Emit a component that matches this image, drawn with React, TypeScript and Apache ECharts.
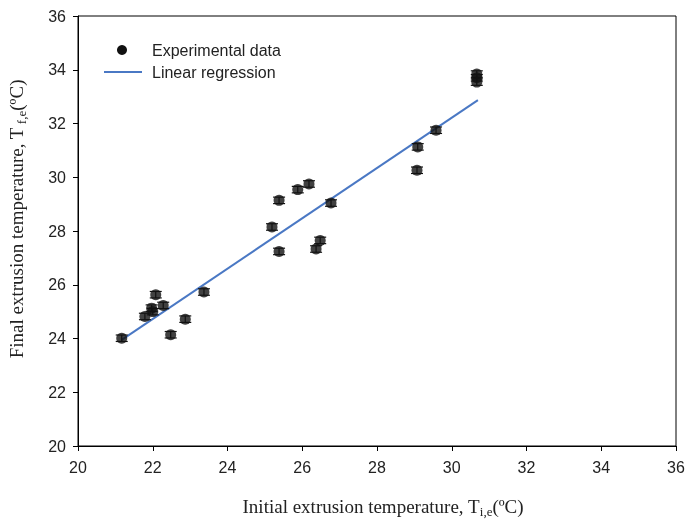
import React, { useEffect, useRef } from "react";
import * as echarts from "echarts";

const initialTemp = [21.17, 21.79, 21.97, 22.0, 22.08, 22.28, 22.48, 22.87, 23.37, 25.19, 25.38, 25.38, 25.88, 26.18, 26.37, 26.48, 26.77, 29.07, 29.09, 29.58, 30.67, 30.67, 30.67];
const finalTemp = [24.01, 24.82, 25.13, 25.0, 25.63, 25.23, 24.14, 24.72, 25.73, 28.15, 29.14, 27.24, 29.54, 29.75, 27.33, 27.65, 29.04, 30.26, 31.13, 31.75, 33.84, 33.7, 33.54];
const errorHalf = [0.12, 0.12, 0.12, 0.12, 0.12, 0.12, 0.12, 0.12, 0.12, 0.12, 0.12, 0.12, 0.12, 0.12, 0.12, 0.12, 0.12, 0.12, 0.12, 0.12, 0.12, 0.12, 0.12];
const regressionX = [21.17, 30.7];
const regressionY = [23.95, 32.87];
const axisTicks = [20, 22, 24, 26, 28, 30, 32, 34, 36];

export default function App() {
  const ref = useRef<HTMLDivElement>(null);
  useEffect(() => {
    if (!ref.current) return;
    const chart = echarts.init(ref.current, null, { renderer: "svg" });
    const points = initialTemp.map((x, i) => [x, finalTemp[i]]);
    const errData = initialTemp.map((x, i) => [x, finalTemp[i] - errorHalf[i], finalTemp[i] + errorHalf[i]]);
    const line = regressionX.map((x, i) => [x, regressionY[i]]);
    const sans = "'Liberation Sans', Arial, sans-serif";
    const serif = "'Liberation Serif', 'Times New Roman', serif";
    const titleRich = {
      a: { fontFamily: serif, fontSize: 19, color: "#222", fill: "#222" },
      s: { fontFamily: serif, fontSize: 13, color: "#222", fill: "#222", padding: [11, 0, 0, 0] },
    };
    chart.setOption({
      animation: false,
      grid: {
        left: 78, top: 16, width: 598, height: 430,
        containLabel: false, outerBoundsMode: "none",
        show: true, borderColor: "#000", borderWidth: 1,
      },
      xAxis: {
        type: "value",
        min: axisTicks[0],
        max: axisTicks[axisTicks.length - 1],
        interval: 2,
        splitLine: { show: false },
        axisLine: { lineStyle: { color: "#000" } },
        axisTick: { length: 5, lineStyle: { color: "#000" } },
        axisLabel: { fontFamily: sans, fontSize: 16, color: "#222", margin: 13 },
        name: "{a|Initial extrusion temperature, T}{s|i,e}{a|(ºC)}",
        nameLocation: "middle",
        nameGap: 48,
        nameTextStyle: { padding: [0, 0, 0, 12], rich: titleRich },
      },
      yAxis: {
        type: "value",
        min: axisTicks[0],
        max: axisTicks[axisTicks.length - 1],
        interval: 2,
        splitLine: { show: false },
        axisLine: { lineStyle: { color: "#000" } },
        axisTick: { length: 5, lineStyle: { color: "#000" } },
        axisLabel: { fontFamily: sans, fontSize: 16, color: "#222", margin: 12 },
      },
      series: [
        {
          type: "line",
          data: line,
          symbol: "none",
          lineStyle: { color: "#4a78c4", width: 2 },
          z: 3,
        },
        {
          type: "custom",
          data: errData,
          z: 4,
          renderItem: (params: any, api: any) => {
            const x = api.value(0);
            const lo = api.coord([x, api.value(1)]);
            const hi = api.coord([x, api.value(2)]);
            const w = 6;
            const st = { stroke: "#111", lineWidth: 1.2 };
            return {
              type: "group",
              children: [
                { type: "line", shape: { x1: lo[0], y1: lo[1], x2: hi[0], y2: hi[1] }, style: st },
                { type: "line", shape: { x1: lo[0] - w, y1: lo[1], x2: lo[0] + w, y2: lo[1] }, style: st },
                { type: "line", shape: { x1: hi[0] - w, y1: hi[1], x2: hi[0] + w, y2: hi[1] }, style: st },
              ],
            };
          },
        },
        {
          type: "scatter",
          data: points,
          symbol: "circle",
          symbolSize: 11,
          itemStyle: { color: "#111" },
          z: 5,
        },
      ],
      graphic: [
        { type: "circle", shape: { cx: 122, cy: 50, r: 5 }, style: { fill: "#111" } },
        { type: "text", x: 152, y: 50, style: { text: "Experimental data", fontFamily: sans, fontSize: 16, fill: "#222", verticalAlign: "middle" } },
        { type: "line", shape: { x1: 104, y1: 72, x2: 142, y2: 72 }, style: { stroke: "#4a78c4", lineWidth: 2 } },
        { type: "text", x: 152, y: 72, style: { text: "Linear regression", fontFamily: sans, fontSize: 16, fill: "#222", verticalAlign: "middle" } },
        {
          type: "text",
          x: 16,
          y: 219,
          rotation: Math.PI / 2,
          style: {
            text: "{a|Final extrusion temperature, T}{s| f,e}{a|(ºC)}",
            rich: titleRich,
            align: "center",
            verticalAlign: "middle",
          },
        },
      ],
    });
    return () => chart.dispose();
  }, []);
  return <div ref={ref} style={{ position: "fixed", left: 0, top: 0, width: 685, height: 519 }} />;
}
